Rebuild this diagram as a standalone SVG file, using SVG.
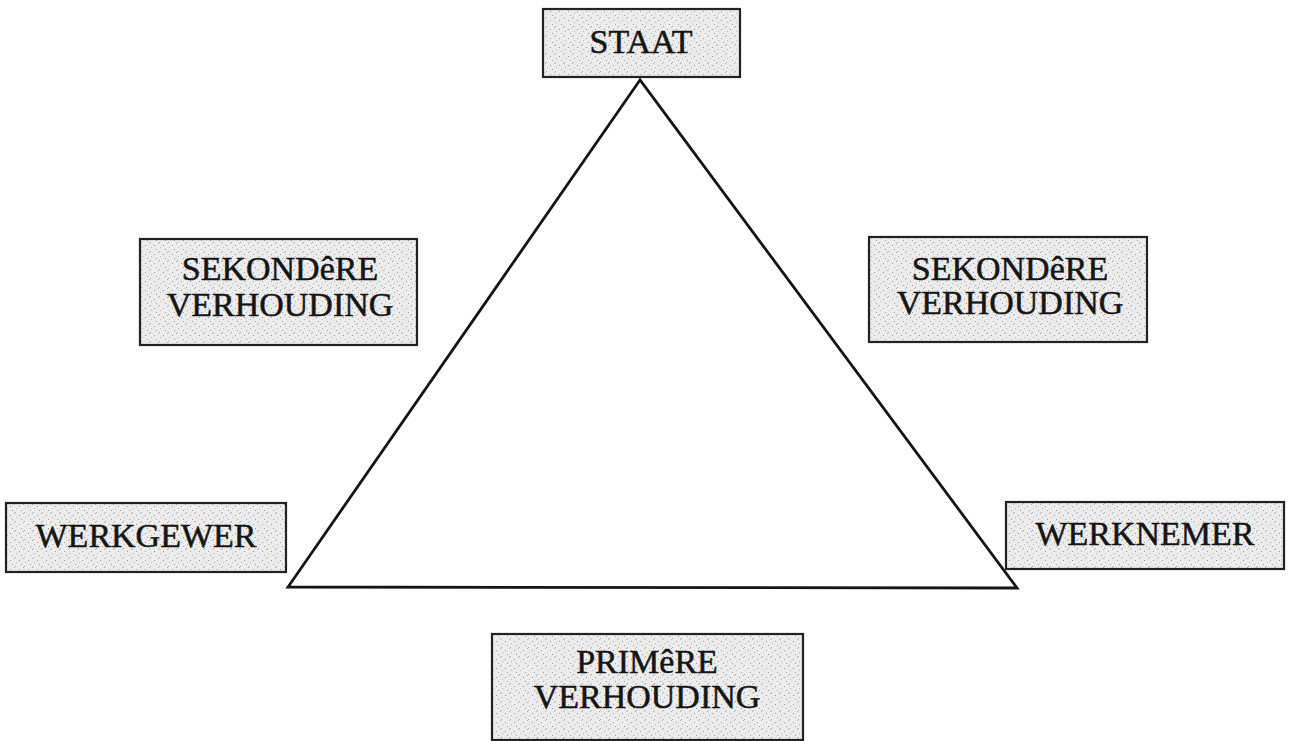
<svg xmlns="http://www.w3.org/2000/svg" width="1290" height="741" viewBox="0 0 1290 741">
  <defs>
    <pattern id="stipple" width="9" height="9" patternUnits="userSpaceOnUse">
      <rect width="9" height="9" fill="#ececec"/>
      <rect x="1" y="2" width="1" height="1" fill="#9a9a9a"/>
      <rect x="5" y="0" width="1" height="1" fill="#b0b0b0"/>
      <rect x="3" y="6" width="1" height="1" fill="#a0a0a0"/>
      <rect x="7" y="4" width="1" height="1" fill="#b8b8b8"/>
      <rect x="6" y="8" width="1" height="1" fill="#a8a8a8"/>
    </pattern>
    <style>
      .box { fill: url(#stipple); stroke: #222222; stroke-width: 2.2; }
      .lbl { font-family: "Liberation Serif", "Times New Roman", serif; font-size: 34px; fill: #151515; stroke: #151515; stroke-width: 0.5; text-anchor: middle; }
      .edge { fill: none; stroke: #151515; stroke-width: 2.8; stroke-linejoin: miter; }
    </style>
  </defs>
  <rect width="1290" height="741" fill="#ffffff"/>

  <g id="connectors">
    <polygon class="edge" points="640,80 288,587 1017,588"/>
  </g>

  <g id="staat">
    <rect class="box" x="543" y="9" width="197" height="68"/>
    <text class="lbl" x="641" y="53">STAAT</text>
  </g>

  <g id="sekondere-links">
    <rect class="box" x="140" y="239" width="277" height="106"/>
    <text class="lbl" x="280" y="280">SEKONDêRE</text>
    <text class="lbl" x="280" y="316">VERHOUDING</text>
  </g>

  <g id="sekondere-regs">
    <rect class="box" x="869" y="237" width="278" height="105"/>
    <text class="lbl" x="1010" y="280">SEKONDêRE</text>
    <text class="lbl" x="1010" y="314">VERHOUDING</text>
  </g>

  <g id="werkgewer">
    <rect class="box" x="6" y="503" width="280" height="69"/>
    <text class="lbl" x="146" y="547">WERKGEWER</text>
  </g>

  <g id="werknemer">
    <rect class="box" x="1006" y="502" width="278" height="67"/>
    <text class="lbl" x="1145" y="545">WERKNEMER</text>
  </g>

  <g id="primere">
    <rect class="box" x="492" y="634" width="311" height="106"/>
    <text class="lbl" x="647" y="673">PRIMêRE</text>
    <text class="lbl" x="647" y="708">VERHOUDING</text>
  </g>
</svg>
